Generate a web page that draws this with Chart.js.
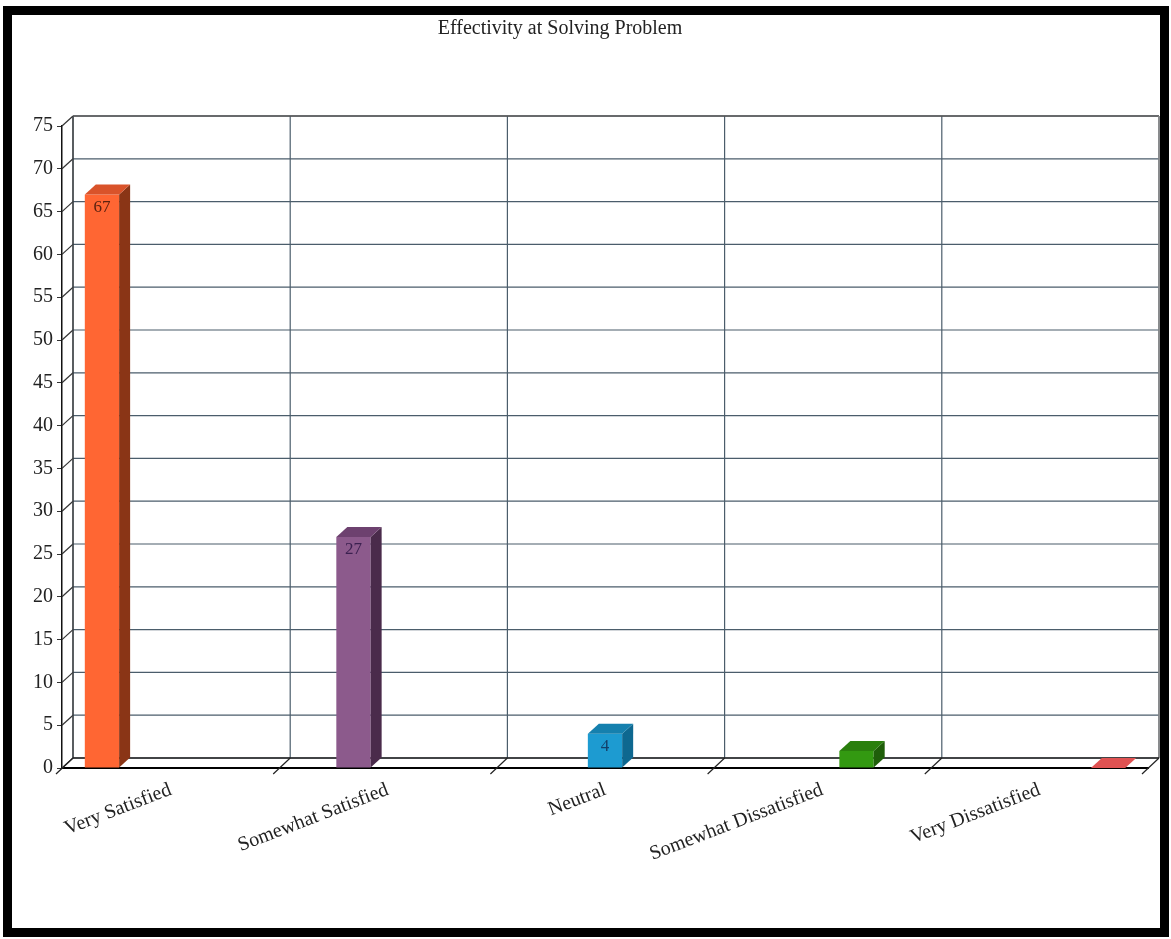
<!DOCTYPE html>
<html>
<head>
<meta charset="utf-8">
<title>Effectivity at Solving Problem</title>
<script src="https://cdn.jsdelivr.net/npm/chart.js@4/dist/chart.umd.min.js"></script>
<style>
  html, body { margin: 0; padding: 0; background: #fff; overflow: hidden; }
  #wrap { position: relative; width: 1171px; height: 939px; }
  #chart { position: absolute; left: 0; top: 0; }
  #frame {
    position: absolute; left: 3px; top: 6px; width: 1166px; height: 931px;
    box-sizing: border-box; border: 9px solid #000; pointer-events: none;
  }
</style>
</head>
<body>
<div id="wrap">
  <canvas id="chart" width="1171" height="939"></canvas>
  <div id="frame"></div>
</div>
<script>
const chartTitle = 'Effectivity at Solving Problem';
const categories = ['Very Satisfied', 'Somewhat Satisfied', 'Neutral', 'Somewhat Dissatisfied', 'Very Dissatisfied'];
const responses = [67, 27, 4, 2, 0];
const yMax = 75;
const yStep = 5;

// face colours for each bar: front, side, top, value text
const frontColors = ['#ff6633', '#8c5a8c', '#1d9bd1', '#339911', '#e05252'];
const sideColors = ['#8a3516', '#4a2b4b', '#0e6890', '#1f5e0a', '#a83232'];
const topColors = ['#d9532a', '#6d416f', '#1580ae', '#2a7f0d', '#e05252'];
const textColors = ['#5c2210', '#3b2050', '#13406a', '#1a3d08', '#6a1a1a'];

const serif = '"Liberation Serif", "Times New Roman", serif';
const depth = { dx: 11, dy: -10 };
const wallColor = '#4b5d6b';

// one dataset per answer so each bar sits in its own slot of the group
const datasets = categories.map((name, i) => ({
    label: name,
    data: categories.map((_, j) => (j === i ? responses[i] : null)),
    backgroundColor: frontColors[i],
    borderWidth: 0
}));

function line(ctx, x1, y1, x2, y2) {
    ctx.beginPath();
    ctx.moveTo(x1, y1);
    ctx.lineTo(x2, y2);
    ctx.stroke();
}

const titlePlugin = {
    id: 'leftTitle',
    afterDraw(chart) {
        const ctx = chart.ctx;
        ctx.save();
        ctx.font = '20px ' + serif;
        ctx.fillStyle = '#222';
        ctx.textAlign = 'center';
        ctx.textBaseline = 'middle';
        ctx.fillText(chartTitle, 560, 29);
        ctx.restore();
    }
};

// back wall, left wall connectors and floor of the 3d box
const wallPlugin = {
    id: 'walls',
    beforeDatasetsDraw(chart) {
        const ctx = chart.ctx;
        const area = chart.chartArea;
        const x = chart.scales.x;
        const y = chart.scales.y;
        const { dx, dy } = depth;
        ctx.save();
        ctx.lineWidth = 1.2;
        ctx.strokeStyle = wallColor;

        // horizontal grid on the back wall + connectors from the front ticks
        y.ticks.forEach((t, i) => {
            const py = y.getPixelForTick(i);
            line(ctx, area.left + dx, py + dy, area.right + dx, py + dy);
            ctx.strokeStyle = '#333';
            line(ctx, area.left, py, area.left + dx, py + dy);
            ctx.strokeStyle = wallColor;
        });

        // vertical grid at the category boundaries
        const n = x.ticks.length;
        const bounds = [];
        for (let i = 0; i <= n; i++) {
            bounds.push(x.getPixelForValue(i - 0.5));
        }
        bounds.forEach(px => {
            line(ctx, px + dx, area.top + dy, px + dx, area.bottom + dy);
        });

        // wall edges
        ctx.strokeStyle = '#333';
        line(ctx, area.left + dx, area.top + dy, area.left + dx, area.bottom + dy);
        ctx.strokeStyle = '#555';
        ctx.lineWidth = 1.6;
        line(ctx, area.left + dx, area.top + dy, area.right + dx, area.top + dy);
        ctx.strokeStyle = '#888';
        line(ctx, area.right + dx, area.top + dy, area.right + dx, area.bottom + dy);

        // floor back edge and boundary ticks
        ctx.strokeStyle = '#222';
        ctx.lineWidth = 1.6;
        line(ctx, area.left + dx, area.bottom + dy, area.right + dx, area.bottom + dy);
        ctx.lineWidth = 1.2;
        bounds.forEach(px => {
            line(ctx, px - 6, area.bottom + 6, px + dx, area.bottom + dy);
        });
        ctx.restore();
    }
};

// side and top faces of every bar, then the value text on the front face
const barPlugin = {
    id: 'bars3d',
    afterDatasetsDraw(chart) {
        const ctx = chart.ctx;
        const { dx, dy } = depth;
        ctx.save();
        chart.data.datasets.forEach((ds, di) => {
            const meta = chart.getDatasetMeta(di);
            meta.data.forEach((bar, j) => {
                const v = ds.data[j];
                if (v === null || v === undefined) return;
                const p = bar.getProps(['x', 'y', 'base', 'width'], true);
                const x0 = p.x - p.width / 2;
                const x1 = p.x + p.width / 2;
                const top = Math.min(p.y, p.base);
                const base = p.base;

                if (base - top > 0.5) {
                    ctx.fillStyle = sideColors[di];
                    ctx.beginPath();
                    ctx.moveTo(x1, top);
                    ctx.lineTo(x1 + dx, top + dy);
                    ctx.lineTo(x1 + dx, base + dy);
                    ctx.lineTo(x1, base);
                    ctx.closePath();
                    ctx.fill();
                }

                ctx.fillStyle = topColors[di];
                ctx.beginPath();
                ctx.moveTo(x0, top);
                ctx.lineTo(x0 + dx, top + dy);
                ctx.lineTo(x1 + dx, top + dy);
                ctx.lineTo(x1, top);
                ctx.closePath();
                ctx.fill();

                if (base - top > 24) {
                    ctx.fillStyle = textColors[di];
                    ctx.font = '17px ' + serif;
                    ctx.textAlign = 'center';
                    ctx.textBaseline = 'middle';
                    ctx.fillText(String(v), p.x, top + 13);
                }
            });
        });
        ctx.restore();
    }
};

new Chart(document.getElementById('chart'), {
    type: 'bar',
    data: {
        labels: categories,
        datasets: datasets
    },
    plugins: [wallPlugin, barPlugin, titlePlugin],
    options: {
        responsive: false,
        animation: false,
        devicePixelRatio: 1,
        layout: {
            padding: { top: 126, right: 23, bottom: 0, left: 0 }
        },
        datasets: {
            bar: {
                categoryPercentage: 0.79,
                barPercentage: 1.0
            }
        },
        plugins: {
            legend: { display: false },
            tooltip: { enabled: false },
            title: { display: false }
        },
        scales: {
            x: {
                afterFit(scale) { scale.height = 171; },
                grid: { display: false },
                border: { display: true, color: '#000', width: 2 },
                ticks: {
                    color: '#222',
                    font: { family: serif, size: 20 },
                    minRotation: 21,
                    maxRotation: 21,
                    autoSkip: false,
                    padding: 2
                }
            },
            y: {
                min: 0,
                max: yMax,
                afterFit(scale) { scale.width = 62; },
                grid: {
                    drawOnChartArea: false,
                    drawTicks: true,
                    tickLength: 5,
                    color: '#333'
                },
                border: { display: true, color: '#111', width: 1.5 },
                ticks: {
                    stepSize: yStep,
                    color: '#222',
                    font: { family: serif, size: 20 },
                    padding: 4
                }
            }
        }
    }
});
</script>
</body>
</html>
